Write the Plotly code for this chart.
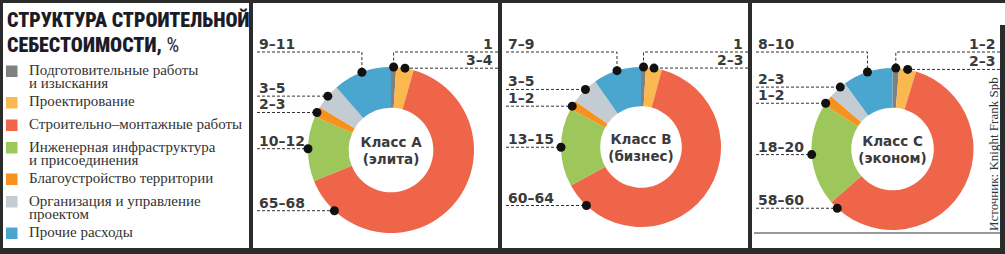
import math
import plotly.graph_objects as go

W, H = 1005, 254

# ---------------- data ----------------
categories = [
    "Подготовительные работы\nи изыскания",
    "Проектирование",
    "Строительно–монтажные работы",
    "Инженерная инфраструктура\nи присоединения",
    "Благоустройство территории",
    "Организация и управление\nпроектом",
    "Прочие расходы",
]
colors = ["#808080", "#fbb84f", "#ee6549", "#9dc65b", "#f7921e", "#c4ccd3", "#4aa6cf"]

class_names = ["Класс А<br>(элита)", "Класс В<br>(бизнес)", "Класс С<br>(эконом)"]
share_a = [1.0, 3.4, 64.5, 12.7, 2.0, 5.0, 11.4]
share_b = [1.0, 3.2, 62.8, 15.9, 1.8, 5.6, 9.7]
share_c = [1.3, 3.4, 58.9, 20.6, 2.1, 3.7, 10.0]
labels_a = ["1", "3–4", "65–68", "10–12", "2–3", "3–5", "9–11"]
labels_b = ["1", "2–3", "60–64", "13–15", "1–2", "3–5", "7–9"]
labels_c = ["1–2", "2–3", "58–60", "18–20", "1–2", "2–3", "8–10"]

title_lines = ["СТРУКТУРА СТРОИТЕЛЬНОЙ", "СЕБЕСТОИМОСТИ,"]
title_unit = "%"
source_text = "Источник: Knight Frank Spb"

# ---------------- layout helpers ----------------
def px(x):
    return x / W

def py(y):
    return (H - y) / H

BG = "#2b2b2b"
INK = "#333333"
LABEL_FONT = dict(family="DejaVu Sans", size=14, color="#3a3a3a", weight="bold")
TITLE_FONT = dict(family="Roboto Condensed, DejaVu Sans Condensed, Roboto", size=20,
                  color="#1c1c28", weight=900)

fig = go.Figure()
shapes = []
annotations = []

# panels (white cards on dark background)
panel_boxes = [(3, 249), (253, 498), (502, 748), (752, 1000)]
for x0, x1 in panel_boxes:
    shapes.append(dict(type="rect", xref="paper", yref="paper", layer="below",
                       x0=px(x0), x1=px(x1), y0=py(248), y1=py(3),
                       fillcolor="white", line=dict(width=0)))
shapes.append(dict(type="rect", xref="paper", yref="paper", layer="below",
                   x0=px(1000), x1=px(1005), y0=py(25), y1=py(3),
                   fillcolor="white", line=dict(width=0)))
shapes.append(dict(type="line", xref="paper", yref="paper", layer="above",
                   x0=px(754), x1=px(1000), y0=py(233), y1=py(233),
                   line=dict(color=INK, width=1)))

# ---------------- donuts ----------------
panels = [
    dict(values=share_a, labels=labels_a, name=class_names[0], cx=391, cy=150, R=83, x0=253, x1=498),
    dict(values=share_b, labels=labels_b, name=class_names[1], cx=641, cy=147, R=80, x0=502, x1=748),
    dict(values=share_c, labels=labels_c, name=class_names[2], cx=892.5, cy=149, R=81, x0=752, x1=1000),
]

RED_DOT_ANGLE = 223.0
TOP_LINE_Y = 52
DOT_R = 4.5
MIN_SEP = 16.0
dash = "3px,2px"


def point(cx, cy, R, ang):
    t = math.radians(ang)
    return (cx + R * math.sin(t), cy - R * math.cos(t))


for p in panels:
    cx, cy, R = p["cx"], p["cy"], p["R"]
    fig.add_trace(go.Pie(
        values=p["values"], labels=[c.replace("\n", " ") for c in categories],
        marker=dict(colors=colors, line=dict(width=0)),
        hole=0.51, sort=False, direction="clockwise", rotation=0,
        textinfo="none", hoverinfo="skip", showlegend=False,
        domain=dict(x=[px(cx - R), px(cx + R)], y=[py(cy + R), py(cy - R)]),
        title=dict(text="<b>" + p["name"] + "</b>", position="middle center",
                   font=dict(family="DejaVu Sans", size=13.5, color="#3b3b3b")),
    ))

    total = sum(p["values"])
    cum = 0.0
    angles = []
    for i, v in enumerate(p["values"]):
        a0 = cum / total * 360
        cum += v
        a1 = cum / total * 360
        angles.append((a0 + a1) / 2 if i != 2 else RED_DOT_ANGLE)
    # spread the two small left-hand labels so their leader lines don't collide
    for _ in range(40):
        y4 = point(cx, cy, R, angles[4])[1]
        y5 = point(cx, cy, R, angles[5])[1]
        if y4 - y5 >= MIN_SEP:
            break
        angles[4] -= 0.5
        angles[5] += 0.5
    dots = [point(cx, cy, R, a) for a in angles]

    lx0 = p["x0"] + 4
    lx1 = p["x1"]
    for i, (dx, dy) in enumerate(dots):
        lab = p["labels"][i]
        if i == 6:  # top-left, elbow
            path = f"M {px(lx0)},{py(TOP_LINE_Y)} L {px(dx)},{py(TOP_LINE_Y)} L {px(dx)},{py(dy)}"
            ty, tx, anchor = TOP_LINE_Y, lx0, "left"
        elif i == 0:  # top-right, elbow
            path = f"M {px(lx1)},{py(TOP_LINE_Y)} L {px(dx)},{py(TOP_LINE_Y)} L {px(dx)},{py(dy)}"
            ty, tx, anchor = TOP_LINE_Y, lx1 - 3, "right"
        elif i == 1:  # right, straight
            path = f"M {px(lx1)},{py(dy)} L {px(dx)},{py(dy)}"
            ty, tx, anchor = dy, lx1 - 3, "right"
        else:  # left, straight
            path = f"M {px(lx0)},{py(dy)} L {px(dx)},{py(dy)}"
            ty, tx, anchor = dy, lx0, "left"
        shapes.append(dict(type="path", xref="paper", yref="paper", layer="above",
                           path=path, line=dict(color=INK, width=1, dash=dash)))
        annotations.append(dict(xref="paper", yref="paper", x=px(tx), y=py(ty - 8),
                                text=lab, showarrow=False, xanchor=anchor, yanchor="middle",
                                font=LABEL_FONT))
    for (dx, dy) in dots:
        shapes.append(dict(type="circle", xref="paper", yref="paper", layer="above",
                           x0=px(dx - DOT_R), x1=px(dx + DOT_R),
                           y0=py(dy + DOT_R), y1=py(dy - DOT_R),
                           fillcolor="#111111", line=dict(width=0)))

# ---------------- title ----------------
annotations.append(dict(xref="paper", yref="paper", x=px(5), y=py(20), text=title_lines[0],
                        showarrow=False, xanchor="left", yanchor="middle", font=TITLE_FONT))
annotations.append(dict(xref="paper", yref="paper", x=px(5), y=py(45),
                        text=title_lines[1] + " <span style='font-weight:normal'>" + title_unit + "</span>",
                        showarrow=False, xanchor="left", yanchor="middle", font=TITLE_FONT))

# ---------------- legend ----------------
y = 71.0
for name, col in zip(categories, colors):
    lines = name.split("\n")
    shapes.append(dict(type="rect", xref="paper", yref="paper", layer="above",
                       x0=px(6), x1=px(17.5), y0=py(y + 6), y1=py(y - 5.5),
                       fillcolor=col, line=dict(width=0)))
    for k, ln in enumerate(lines):
        annotations.append(dict(xref="paper", yref="paper", x=px(27), y=py(y + 13 * k - 1),
                                text=ln, showarrow=False, xanchor="left", yanchor="middle",
                                font=dict(family="Liberation Serif", size=15, color="#333333")))
    y += 22.5 + 9 * (len(lines) - 1)

# ---------------- source ----------------
annotations.append(dict(xref="paper", yref="paper", x=px(993), y=py(154), text=source_text,
                        showarrow=False, textangle=-90, xanchor="center", yanchor="middle",
                        font=dict(family="Liberation Serif", size=13, color=INK)))

fig.update_layout(
    width=W, height=H, margin=dict(l=0, r=0, t=0, b=0),
    paper_bgcolor=BG, plot_bgcolor="rgba(0,0,0,0)",
    shapes=shapes, annotations=annotations, showlegend=False,
)

fig.write_html("out.html")
